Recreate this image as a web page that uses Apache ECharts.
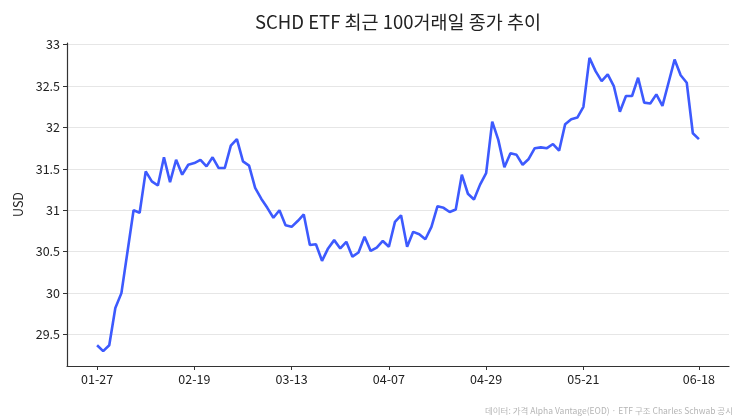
<!DOCTYPE html>
<html>
<head>
<meta charset="utf-8">
<script src="https://cdn.jsdelivr.net/npm/echarts@6/dist/echarts.min.js"></script>
<style>
html,body{margin:0;padding:0;background:#fff;}
#chart{width:743px;height:418px;}
</style>
</head>
<body>
<div id="chart"></div>
<script>
const titleText = 'SCHD ETF 최근 100거래일 종가 추이';
const yAxisName = 'USD';
const sourceText = '데이터: 가격 Alpha Vantage(EOD) · ETF 구조 Charles Schwab 공시';

const dates = [
  '01-27','01-28','01-29','01-30','01-31','02-03','02-04','02-05','02-06','02-07',
  '02-10','02-11','02-12','02-13','02-14','02-18','02-19','02-20','02-21','02-24',
  '02-25','02-26','02-27','02-28','03-03','03-04','03-05','03-06','03-07','03-10',
  '03-11','03-12','03-13','03-14','03-17','03-18','03-19','03-20','03-21','03-24',
  '03-25','03-26','03-27','03-28','03-31','04-01','04-02','04-03','04-07','04-08',
  '04-09','04-10','04-11','04-14','04-15','04-16','04-17','04-18','04-21','04-22',
  '04-23','04-24','04-25','04-28','04-29','04-30','05-01','05-02','05-05','05-06',
  '05-07','05-08','05-09','05-12','05-13','05-14','05-15','05-16','05-19','05-20',
  '05-21','05-22','05-23','05-27','05-28','05-29','05-30','06-02','06-03','06-04',
  '06-05','06-06','06-09','06-10','06-11','06-12','06-13','06-16','06-17','06-18'
];

const closes = [
  29.37, 29.30, 29.37, 29.82, 30.00, 30.50, 31.00, 30.97, 31.47, 31.35,
  31.30, 31.64, 31.34, 31.61, 31.43, 31.55, 31.57, 31.61, 31.53, 31.64,
  31.51, 31.51, 31.78, 31.86, 31.59, 31.54, 31.27, 31.14, 31.03, 30.91,
  31.00, 30.82, 30.80, 30.87, 30.95, 30.58, 30.59, 30.39, 30.54, 30.64,
  30.54, 30.62, 30.44, 30.49, 30.68, 30.51, 30.55, 30.63, 30.56, 30.86,
  30.94, 30.56, 30.74, 30.71, 30.65, 30.80, 31.05, 31.03, 30.98, 31.01,
  31.43, 31.20, 31.13, 31.31, 31.45, 32.07, 31.85, 31.52, 31.69, 31.67,
  31.55, 31.62, 31.75, 31.76, 31.75, 31.80, 31.72, 32.04, 32.10, 32.12,
  32.25, 32.84, 32.68, 32.56, 32.64, 32.50, 32.19, 32.38, 32.38, 32.60,
  32.30, 32.29, 32.40, 32.26, 32.54, 32.82, 32.63, 32.54, 31.93, 31.86
];

const xTickIndices = [0, 16, 32, 48, 64, 80, 99];
const yTicks = [29.5, 30, 30.5, 31, 31.5, 32, 32.5, 33];

const font = '"Noto Sans CJK KR", "Noto Sans", sans-serif';
const chart = echarts.init(document.getElementById('chart'), null, {renderer: 'canvas'});

const seriesData = closes.map((v, i) => [i, v]);

chart.setOption({
  animation: false,
  backgroundColor: '#ffffff',
  title: {
    text: titleText,
    left: 393,
    textAlign: 'center',
    top: 8,
    textStyle: {fontFamily: font, fontSize: 18.5, fontWeight: 'normal', color: '#222222'}
  },
  grid: {left: 67, right: 14, top: 43, bottom: 52, containLabel: false},
  xAxis: {
    type: 'value',
    min: -4.95,
    max: 103.95,
    axisLine: {show: true, onZero: false, lineStyle: {color: '#333333', width: 1.2}},
    axisTick: {show: true, length: 4, lineStyle: {color: '#333333', width: 1}, customValues: xTickIndices},
    axisLabel: {
      show: true, margin: 7, color: '#222222', fontFamily: font, fontSize: 12.5,
      customValues: xTickIndices,
      formatter: (v) => dates[Math.round(v)] || ''
    },
    splitLine: {show: false}
  },
  yAxis: {
    type: 'value',
    min: 29.12,
    max: 33.02,
    name: yAxisName,
    nameLocation: 'middle',
    nameGap: 42,
    nameTextStyle: {fontFamily: font, fontSize: 12.5, color: '#222222'},
    axisLine: {show: true, onZero: false, lineStyle: {color: '#333333', width: 1.2}},
    axisTick: {show: true, length: 4, lineStyle: {color: '#333333', width: 1}, customValues: yTicks},
    axisLabel: {
      show: true, margin: 7, color: '#222222', fontFamily: font, fontSize: 12.5,
      customValues: yTicks,
      formatter: (v) => String(v)
    },
    splitLine: {show: true, lineStyle: {color: '#e6e6e6', width: 1}}
  },
  series: [{
    type: 'line',
    data: seriesData,
    showSymbol: false,
    symbol: 'none',
    lineStyle: {color: '#3D5AFE', width: 2.6},
    itemStyle: {color: '#3D5AFE'},
    z: 3
  }],
  graphic: [{
    type: 'text',
    right: 10,
    bottom: 3,
    style: {text: sourceText, fontFamily: font, fontSize: 8.5, fill: '#b5b5b5', textAlign: 'right'}
  }]
});
</script>
</body>
</html>
